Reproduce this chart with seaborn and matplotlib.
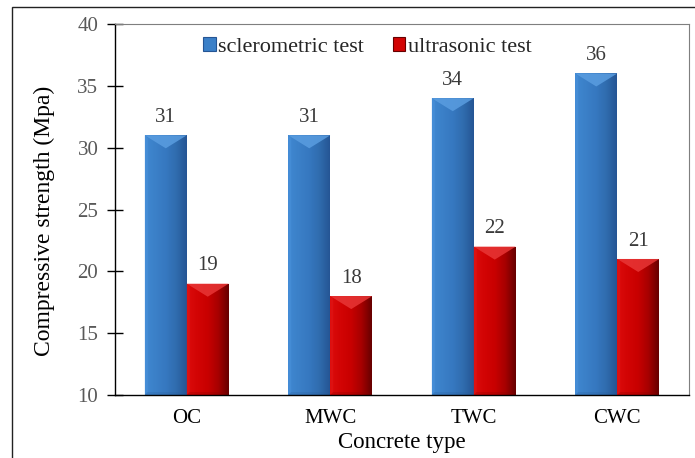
import numpy as np
import pandas as pd
import matplotlib
matplotlib.use("Agg")
import matplotlib.pyplot as plt
import seaborn as sns
from matplotlib.colors import LinearSegmentedColormap
from matplotlib.patches import Polygon, Rectangle, Patch

# Data
concrete_types = ["OC", "MWC", "TWC", "CWC"]
sclerometric = [31, 31, 34, 36]
ultrasonic = [19, 18, 22, 21]
series_names = ["sclerometric test", "ultrasonic test"]
yticks = [10, 15, 20, 25, 30, 35, 40]

sns.set_theme(style="white")
plt.rcParams["font.family"] = ["Liberation Serif", "DejaVu Serif"]

df = pd.DataFrame({
    "type": concrete_types * 2,
    "strength": sclerometric + ultrasonic,
    "test": [series_names[0]] * len(concrete_types) + [series_names[1]] * len(concrete_types),
})

# Shading styles for the bevelled bars
styles = {
    series_names[0]: dict(
        base="#3a7ec6",
        grad=["#4088d2", "#3b80c8", "#3678c0", "#306cae", "#255594"],
        top="#5a9de0", left="#4b93dc", bottom="#2b5f9c"),
    series_names[1]: dict(
        base="#cc0000",
        grad=["#dc0c0c", "#d20404", "#c80000", "#a60000", "#660000"],
        top="#e83636", left="#e01818", bottom="#8a0000"),
}

fig = plt.figure(figsize=(6.95, 4.58), dpi=100)
ax = fig.add_axes([115 / 695, 63 / 458, 574 / 695, 371 / 458])

sns.barplot(data=df, x="type", y="strength", hue="test",
            palette=[styles[s]["base"] for s in series_names],
            width=0.585, gap=0, saturation=1, edgecolor="none",
            legend=False, ax=ax)

ax.set_ylim(10, 40)
ax.set_xlim(-0.5, len(concrete_types) - 0.5)
ax.set_yticks(yticks)

# pixel -> data conversion for bevel sizes
dx = (len(concrete_types)) / 574.0
dy = 30.0 / 371.0
ymin = ax.get_ylim()[0]

for cont, name in zip(ax.containers, series_names):
    st = styles[name]
    cmap = LinearSegmentedColormap.from_list(name, st["grad"])
    grad = np.linspace(0, 1, 256).reshape(1, -1)
    for p in cont.patches:
        x0 = p.get_x()
        w = p.get_width()
        x1 = x0 + w
        top = p.get_y() + p.get_height()
        bot = max(p.get_y(), ymin)
        im = ax.imshow(grad, cmap=cmap, extent=[x0, x1, bot, top],
                       aspect="auto", origin="lower", zorder=p.get_zorder() + 0.1)
        im.set_clip_path(p)
        xc = (x0 + x1) / 2
        # left light strip
        ax.add_patch(Polygon([(x0, bot), (x0 + 3 * dx, bot + 3 * dy),
                              (x0 + 3 * dx, top - 3 * dy), (x0, top)],
                             closed=True, fc=st["left"], ec="none", alpha=0.5,
                             zorder=p.get_zorder() + 0.2))
        # bottom shade
        ax.add_patch(Polygon([(x0, bot), (x1, bot), (x1 - 4 * dx, bot + 3 * dy),
                              (x0 + 3 * dx, bot + 3 * dy)],
                             closed=True, fc=st["bottom"], ec="none", alpha=0.25,
                             zorder=p.get_zorder() + 0.2))
        # top bevel
        ax.add_patch(Polygon([(x0, top), (x1, top), (xc, top - 13 * dy)],
                             closed=True, fc=st["top"], ec="none", alpha=0.85,
                             zorder=p.get_zorder() + 0.3))
    ax.bar_label(cont, labels=[f"{v:g}" for v in cont.datavalues],
                 padding=6, fontsize=15, color="#3a3a3a")

ax.set_ylim(10, 40)
ax.set_xlim(-0.5, len(concrete_types) - 0.5)

# Axes styling
for side in ["left", "bottom"]:
    ax.spines[side].set_color("black")
    ax.spines[side].set_linewidth(1.0)
for side in ["top", "right"]:
    ax.spines[side].set_color("#7f7f7f")
    ax.spines[side].set_linewidth(0.8)
ax.tick_params(axis="y", which="both", left=True, direction="inout", length=12,
               width=1, color="black", labelsize=15, labelcolor="#595959", pad=6)
ax.tick_params(axis="x", length=0, labelsize=15, labelcolor="black", pad=10)
ax.set_xlabel("Concrete type", fontsize=16.5, color="black", labelpad=3)
ax.set_ylabel("Compressive strength (Mpa)", fontsize=17, color="black")
ax.yaxis.set_label_coords(-0.104, 0.469)

handles = [Patch(facecolor=styles[s]["grad"][1], edgecolor=styles[s]["grad"][-1], linewidth=0.8)
           for s in series_names]
ax.legend(handles, series_names, loc="center", bbox_to_anchor=(0.44, 0.938),
          ncol=2, frameon=False, fontsize=16, handlelength=0.55, handleheight=0.55,
          handletextpad=0.12, columnspacing=1.3, borderaxespad=0)

# Outer frame around the figure
fig.add_artist(Rectangle((12 / 695, -0.05), 1.1, (1 - 7 / 458) + 0.05,
                         transform=fig.transFigure, fill=False,
                         edgecolor="#222222", linewidth=1.0, clip_on=False))

fig.savefig("out.png", dpi=100)
